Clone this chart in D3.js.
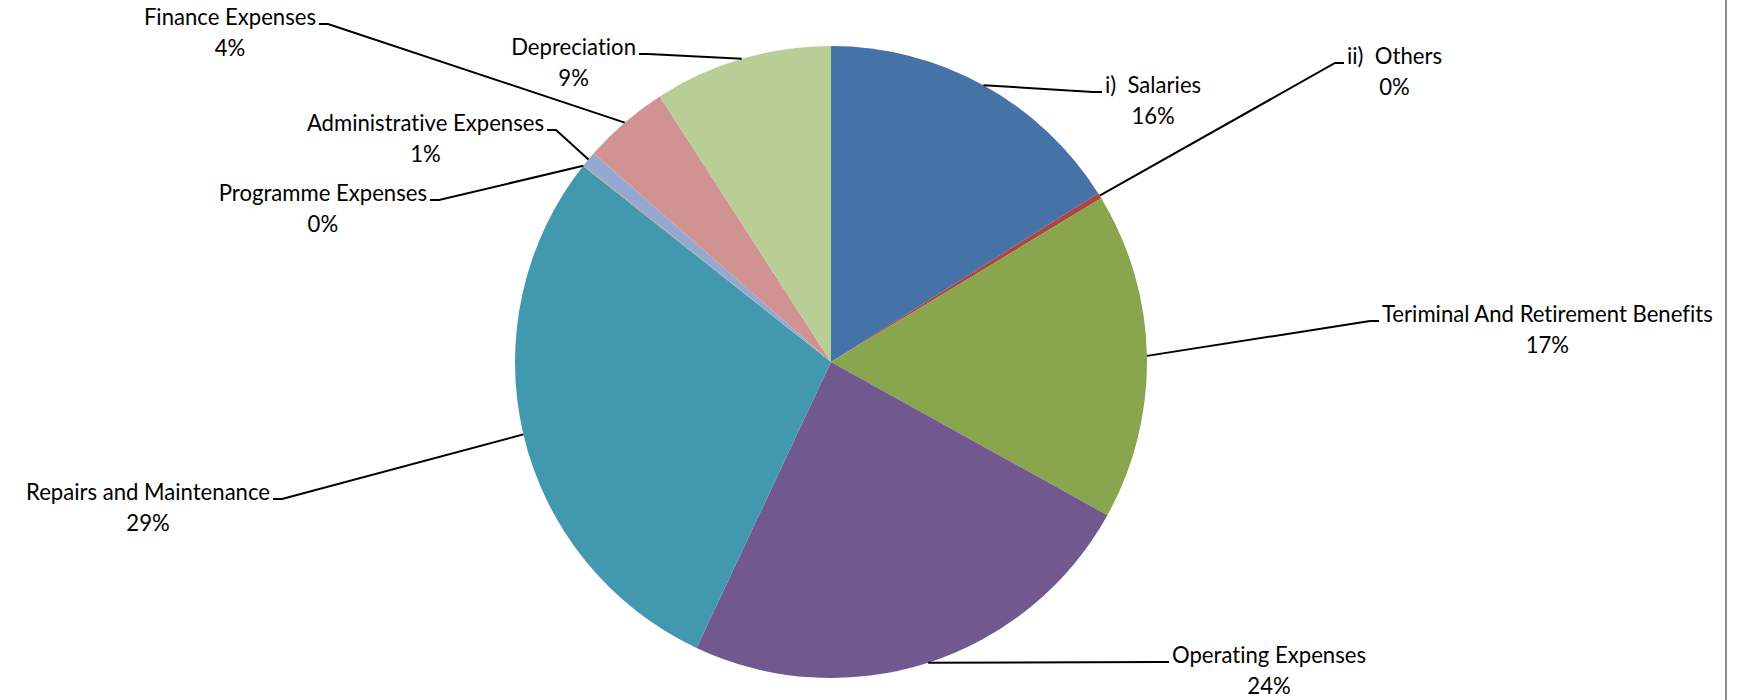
<!DOCTYPE html>
<html><head><meta charset="utf-8">
<script src="https://cdn.jsdelivr.net/npm/d3@7"></script>
<style>html,body{margin:0;padding:0;background:#fff;overflow:hidden}
text{font-variant-ligatures:none;font-feature-settings:"liga" 0,"clig" 0,"dlig" 0;}</style>
</head><body><svg id="c" width="1743" height="700"></svg>
<script>
// ---- data ----
const categories = ["i)  Salaries","ii)  Others","Teriminal And Retirement Benefits","Operating Expenses","Repairs and Maintenance","Programme Expenses","Administrative Expenses","Finance Expenses","Depreciation"];
const values = [16.0, 0.3, 16.7, 23.9, 28.6, 0.03, 0.8, 4.4, 9.1];
const colors = ["#4572A7","#AA4643","#89A54E","#71588F","#4198AF","#DB843D","#93A9CF","#D19392","#B9CD96"];
// ---- label layout (elbow of leader line, side of text) ----
const labelElbows = [[1093,92],[1335,63],[1370,321],[1160,662],[282,499],[439,200],[556,130],[328,24],[648,54]];
const labelSides = ["right","right","right","right","left","left","left","left","left"];

const svg = d3.select("#c");
const cx = 831, cy = 362, R = 316;
const total = d3.sum(values);
const fmt = d3.format(".0%");

// border line on right
svg.append("line").attr("x1",1726).attr("x2",1726).attr("y1",0).attr("y2",700)
  .attr("stroke","#8c8c8c").attr("stroke-width",2);

const pie = d3.pie().sort(null).value(d => d.v).startAngle(0).endAngle(2*Math.PI);
const data = categories.map((c,i)=>({c, v: values[i], col: colors[i], elbow: labelElbows[i], side: labelSides[i]}));
const arcs = pie(data);
const arc = d3.arc().innerRadius(0).outerRadius(R);

const g = svg.append("g").attr("transform",`translate(${cx},${cy})`);
g.selectAll("path").data(arcs).join("path").attr("d",arc).attr("fill",d=>d.data.col);

// font size calibrated so text widths resemble the original
const fontFam = "Lato, 'Open Sans', sans-serif";
function measure(s){
  const p = svg.append("text").attr("font-family",fontFam).attr("font-size",24).style("white-space","pre").text(s);
  const w = p.node().getComputedTextLength(); p.remove(); return w;
}
const fs = Math.min(24*255/measure("Repairs and Maintenance"), 24*331/measure(categories[2]));

const lg = svg.append("g");
arcs.forEach(a => {
  const m = (a.startAngle + a.endAngle)/2;
  const p = [cx + R*Math.sin(m), cy - R*Math.cos(m)];
  const [ex, ey] = a.data.elbow;
  const dir = a.data.side === "right" ? 1 : -1;
  const hx = ex + dir*9;
  lg.append("polyline").attr("points",[p,[ex,ey],[hx,ey]].map(q=>q.join(",")).join(" "))
    .attr("fill","none").attr("stroke","#000").attr("stroke-width",2);
  const t1 = lg.append("text").attr("font-family",fontFam).attr("font-size",fs)
    .style("white-space","pre").attr("fill","#000").text(a.data.c);
  const w = t1.node().getComputedTextLength();
  const x0 = dir > 0 ? hx + 3 : hx - 3 - w;
  const xc = x0 + w/2;
  t1.attr("x",xc).attr("y",ey+1).attr("text-anchor","middle");
  lg.append("text").attr("font-family",fontFam).attr("font-size",fs).attr("fill","#000")
    .attr("x",xc).attr("y",ey+32).attr("text-anchor","middle").text(fmt(a.data.v/total));
});
</script></body></html>
